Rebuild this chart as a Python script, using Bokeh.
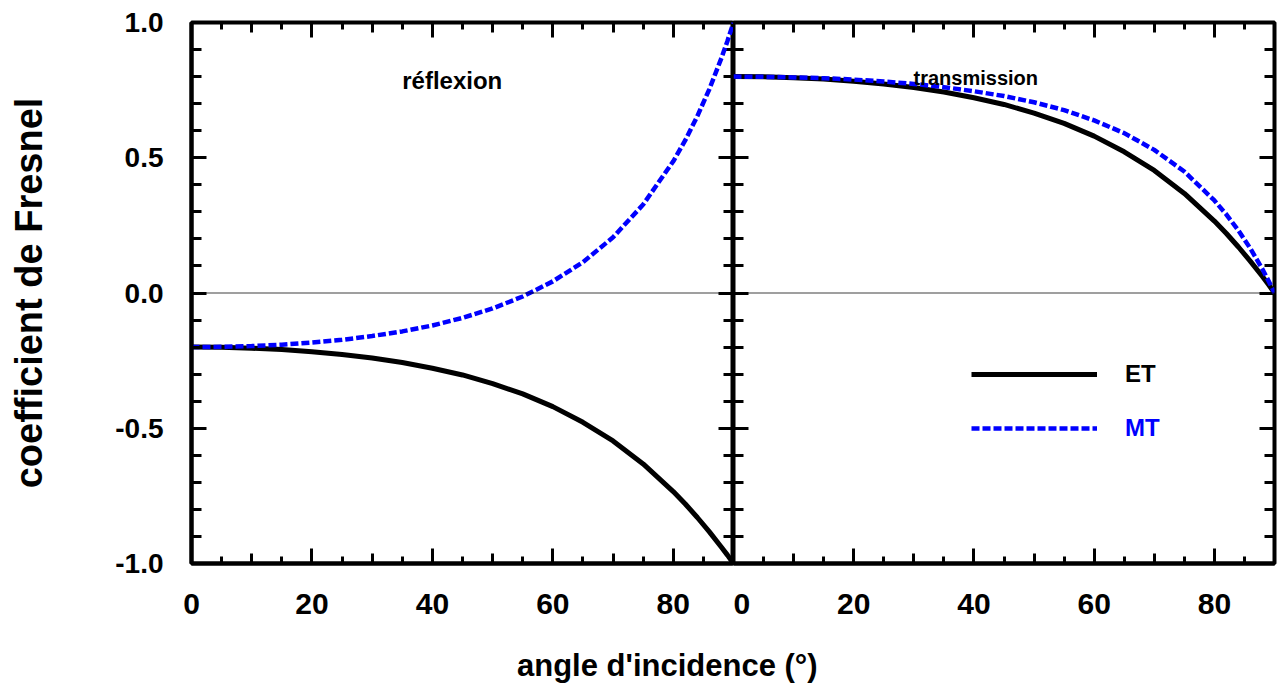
from bokeh.plotting import figure
from bokeh.layouts import row, column
from bokeh.models import (Range1d, FixedTicker, LinearAxis, Grid, Span, Label,
                          Legend, LegendItem, PrintfTickFormatter, Div)
from bokeh.embed import file_html
from bokeh.resources import INLINE

# angle d'incidence (deg)
ANGLE = [0, 5, 10, 15, 20, 25, 30, 35, 40, 45, 50, 55, 60, 65, 70, 75, 80, 82, 84, 86, 88, 89, 90]

# réflexion
R_ET = [-0.200, -0.201, -0.204, -0.209, -0.217, -0.227, -0.240, -0.257, -0.278, -0.303, -0.335, -0.373,
        -0.420, -0.478, -0.547, -0.632, -0.734, -0.780, -0.830, -0.883, -0.940, -0.969, -1.000]
R_MT = [-0.200, -0.199, -0.196, -0.191, -0.183, -0.173, -0.159, -0.142, -0.120, -0.092, -0.057, -0.013,
        0.043, 0.114, 0.206, 0.327, 0.487, 0.565, 0.654, 0.754, 0.869, 0.932, 1.000]

# transmission
T_ET = [0.800, 0.799, 0.796, 0.791, 0.783, 0.773, 0.760, 0.743, 0.722, 0.697, 0.665, 0.627,
        0.580, 0.522, 0.453, 0.368, 0.266, 0.220, 0.170, 0.117, 0.061, 0.031, 0.000]
T_MT = [0.800, 0.799, 0.797, 0.794, 0.789, 0.782, 0.773, 0.761, 0.746, 0.728, 0.705, 0.676,
        0.638, 0.591, 0.529, 0.449, 0.342, 0.290, 0.231, 0.164, 0.088, 0.045, 0.000]

X_MAJOR = [0, 20, 40, 60, 80]
X_MID = [10, 30, 50, 70]
X_MINOR = list(range(0, 91, 5))
Y_MAJOR = [-1.0, -0.5, 0.0, 0.5, 1.0]
Y_MINOR = [round(-1 + 0.1 * i, 1) for i in range(21)]

FONT = "Liberation Sans"
BLUE = "#0000ff"

FW, FH = 542, 541        # frame size in px
y_range = Range1d(-1, 1)


def px_x(n):
    return n * 90 / FW


def px_y(n):
    return n * 2 / FH


def tick_grid(p, dim, ticks, lo, hi):
    p.add_layout(Grid(dimension=dim, ticker=FixedTicker(ticks=ticks), cross_bounds=(lo, hi),
                      grid_line_color="black", grid_line_width=3))


def make_panel(left_border, right_border, frame_w, with_yaxis):
    p = figure(frame_width=frame_w, frame_height=FH, x_range=Range1d(0, 90), y_range=y_range,
               toolbar_location=None, output_backend="svg", x_axis_location=None,
               y_axis_location=None, min_border_left=left_border, min_border_right=right_border,
               min_border_top=22, min_border_bottom=75)
    p.outline_line_color = "black"
    p.outline_line_width = 4
    p.grid.visible = False

    xax = LinearAxis(ticker=FixedTicker(ticks=X_MAJOR, minor_ticks=X_MINOR))
    xax.major_label_text_font_size = "30px"
    xax.major_label_standoff = 30
    xax.minor_tick_in = 7
    axes = [(xax, "below")]
    if with_yaxis:
        yax = LinearAxis(ticker=FixedTicker(ticks=Y_MAJOR, minor_ticks=Y_MINOR),
                         formatter=PrintfTickFormatter(format="%.1f"))
        yax.major_label_text_font_size = "28px"
        yax.major_label_standoff = 28
        yax.minor_tick_in = 10
        axes.append((yax, "left"))
    for ax, side in axes:
        ax.axis_line_width = 4
        ax.major_tick_line_width = 3
        ax.minor_tick_line_width = 3
        ax.major_tick_out = 0
        ax.minor_tick_out = 0
        ax.major_tick_in = 15
        ax.major_label_text_font = FONT
        ax.major_label_text_font_style = "bold"
        ax.major_label_text_color = "black"
        p.add_layout(ax, side)

    # remaining ticks, drawn inward
    tick_grid(p, 0, X_MID, -1.0, -1.0 + px_y(10))
    tick_grid(p, 0, X_MINOR, 1.0 - px_y(7), 1.0)
    tick_grid(p, 0, X_MID, 1.0 - px_y(10), 1.0)
    tick_grid(p, 0, X_MAJOR, 1.0 - px_y(15), 1.0)
    tick_grid(p, 1, Y_MINOR, 90 - px_x(10), 90)
    tick_grid(p, 1, Y_MAJOR, 90 - px_x(15), 90)
    if not with_yaxis:
        tick_grid(p, 1, Y_MINOR, 0, px_x(10))
        tick_grid(p, 1, Y_MAJOR, 0, px_x(15))

    p.add_layout(Span(location=0, dimension="width", line_color="black", line_width=1.3,
                      line_dash="1 1"))
    return p, (axes[1][0] if with_yaxis else None)


p1, yax = make_panel(191, 0, FW, True)
yax.axis_label = "coefficient de Fresnel"
yax.axis_label_text_font = FONT
yax.axis_label_text_font_style = "bold"
yax.axis_label_text_font_size = "38px"
yax.axis_label_text_color = "black"
yax.axis_label_standoff = 62

p1.line(ANGLE, R_ET, line_color="black", line_width=5)
p1.line(ANGLE, R_MT, line_color=BLUE, line_width=4.5, line_dash="8 3")
p1.add_layout(Label(x=43.3, y=0.787, text="réflexion", text_align="center",
                    text_baseline="alphabetic", text_font=FONT, text_font_style="bold",
                    text_font_size="24px", text_color="black"))

p2, _ = make_panel(0, 4, 541, False)
et = p2.line(ANGLE, T_ET, line_color="black", line_width=5)
mt = p2.line(ANGLE, T_MT, line_color=BLUE, line_width=4.5, line_dash="8 3")
p2.add_layout(Label(x=40.3, y=0.795, text="transmission", text_align="center",
                    text_baseline="alphabetic", text_font=FONT, text_font_style="bold",
                    text_font_size="20px", text_color="black"))

for item, name, color, loc in ((et, "ET", "black", (238, 166)), (mt, "MT", BLUE, (238, 112))):
    leg = Legend(items=[LegendItem(label=name, renderers=[item])],
                 location=loc, padding=0, margin=0, glyph_width=126, glyph_height=46,
                 label_height=30, label_standoff=28, label_text_font=FONT,
                 label_text_font_style="bold", label_text_font_size="24px",
                 label_text_color=color, border_line_color=None, background_fill_alpha=0)
    p2.add_layout(leg)

xlabel = Div(text="angle d'incidence (°)", width=1200,
             styles={"font-family": FONT, "font-weight": "bold", "font-size": "31px",
                     "color": "black", "padding-left": "512px", "margin-top": "6px"})

layout = column(row(p1, p2), xlabel)
open("out.html", "w").write(file_html(layout, INLINE))
